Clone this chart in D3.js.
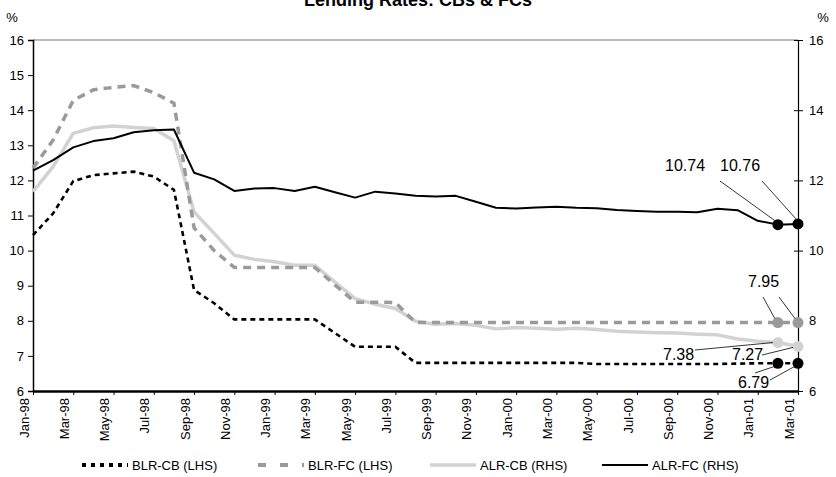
<!DOCTYPE html>
<html><head><meta charset="utf-8">
<script src="https://cdn.jsdelivr.net/npm/d3@7"></script>
<style>
body{margin:0;background:#fff;}
text{font-family:"Liberation Sans",Arial,sans-serif;}
</style></head>
<body><svg id="chart" width="836" height="477"></svg>
<script>
const months = ["Jan-98","Feb-98","Mar-98","Apr-98","May-98","Jun-98","Jul-98","Aug-98","Sep-98","Oct-98","Nov-98","Dec-98",
"Jan-99","Feb-99","Mar-99","Apr-99","May-99","Jun-99","Jul-99","Aug-99","Sep-99","Oct-99","Nov-99","Dec-99",
"Jan-00","Feb-00","Mar-00","Apr-00","May-00","Jun-00","Jul-00","Aug-00","Sep-00","Oct-00","Nov-00","Dec-00",
"Jan-01","Feb-01","Mar-01"];
const tickLabels = ["Jan-98","Mar-98","May-98","Jul-98","Sep-98","Nov-98","Jan-99","Mar-99","May-99","Jul-99","Sep-99","Nov-99",
"Jan-00","Mar-00","May-00","Jul-00","Sep-00","Nov-00","Jan-01","Mar-01"];
const yTicks = [6,7,8,9,10,11,12,13,14,15,16];
const yTicksRight = [6,8,10,12,14,16];

const blrCB = [10.44,11.06,11.98,12.15,12.20,12.25,12.11,11.73,8.88,8.50,8.04,8.04,
8.04,8.04,8.04,7.65,7.26,7.26,7.26,6.80,6.80,6.80,6.80,6.80,
6.80,6.80,6.80,6.80,6.77,6.77,6.77,6.77,6.77,6.77,6.77,6.78,
6.79,6.79,6.79];
const blrFC = [12.35,13.15,14.28,14.58,14.65,14.70,14.50,14.20,10.65,10.00,9.52,9.52,
9.52,9.52,9.52,9.02,8.53,8.53,8.52,7.95,7.95,7.95,7.95,7.95,
7.95,7.95,7.95,7.95,7.95,7.95,7.95,7.95,7.95,7.95,7.95,7.95,
7.95,7.95,7.95];
const alrCB = [11.68,12.39,13.34,13.50,13.55,13.51,13.48,13.13,11.10,10.49,9.87,9.75,
9.68,9.58,9.58,9.10,8.63,8.47,8.35,7.99,7.90,7.92,7.87,7.77,
7.81,7.79,7.76,7.79,7.75,7.70,7.68,7.66,7.65,7.62,7.60,7.48,
7.42,7.38,7.27];
const alrFC = [12.28,12.58,12.94,13.12,13.20,13.37,13.43,13.45,12.22,12.03,11.70,11.77,
11.78,11.70,11.82,11.66,11.51,11.68,11.63,11.56,11.54,11.56,11.39,11.22,
11.20,11.23,11.25,11.22,11.21,11.16,11.13,11.11,11.11,11.09,11.19,11.15,
10.85,10.74,10.76];

const svg = d3.select("#chart");
const L = 33, R = 798, T = 40, B = 391;
const x = d3.scalePoint().domain(months).range([L, R]);
const y = d3.scaleLinear().domain([6,16]).range([B, T]);

// title
svg.append("text").attr("x",418).attr("y",6).attr("text-anchor","middle")
  .attr("font-size",18).attr("font-weight","bold").text("Lending Rates: CBs & FCs");
svg.append("text").attr("x",12).attr("y",22).attr("text-anchor","middle").attr("font-size",13).text("%");
svg.append("text").attr("x",823).attr("y",22).attr("text-anchor","middle").attr("font-size",13).text("%");

// top border
svg.append("line").attr("x1",L).attr("x2",R).attr("y1",T).attr("y2",T).attr("stroke","#777").attr("stroke-width",1.2);

// left axis
const gL = svg.append("g").attr("transform",`translate(${L},0)`)
  .call(d3.axisLeft(y).tickValues(yTicks).tickSize(5).tickPadding(4).tickFormat(d3.format("d")));
gL.select(".domain").attr("stroke","#000").attr("stroke-width",1.5);
gL.selectAll("text").attr("font-size",13).attr("font-family","Liberation Sans, Arial, sans-serif").attr("fill","#000");

// right axis
const gR = svg.append("g").attr("transform",`translate(${R},0)`)
  .call(d3.axisRight(y).tickValues(yTicksRight).tickSize(5).tickPadding(6).tickFormat(d3.format("d")));
gR.select(".domain").attr("stroke","#000").attr("stroke-width",1.2);
gR.selectAll(".tick line").attr("x1",-4);
gR.selectAll("text").attr("font-size",13).attr("font-family","Liberation Sans, Arial, sans-serif").attr("fill","#000");

// bottom axis
const gB = svg.append("g").attr("transform",`translate(0,${B})`)
  .call(d3.axisBottom(x).tickValues(tickLabels).tickSize(4).tickSizeOuter(0));
gB.select(".domain").attr("stroke","#000").attr("stroke-width",2.5);
gB.selectAll("text").attr("font-size",13).attr("font-family","Liberation Sans, Arial, sans-serif").attr("fill","#000")
  .attr("transform","rotate(-90)").attr("text-anchor","end").attr("dx","-7").attr("dy","-0.38em").attr("y",0).attr("x",0);

// lines
const line = d3.line().x((d,i)=>x(months[i])).y(d=>y(d));
const series = [
  {name:"ALR-CB (RHS)", data:alrCB, color:"#d2d2d2", w:3.5, dash:null},
  {name:"BLR-FC (LHS)", data:blrFC, color:"#9a9a9a", w:3.5, dash:"8,6"},
  {name:"ALR-FC (RHS)", data:alrFC, color:"#000", w:2, dash:null},
  {name:"BLR-CB (LHS)", data:blrCB, color:"#000", w:2.6, dash:"5,4"}
];
series.forEach(s=>{
  svg.append("path").datum(s.data).attr("d",line).attr("fill","none")
    .attr("stroke",s.color).attr("stroke-width",s.w).attr("stroke-dasharray",s.dash)
    .attr("stroke-linejoin","round");
});

// end markers (Feb-01, Mar-01)
const markerColor = {"ALR-CB (RHS)":"#d2d2d2","BLR-FC (LHS)":"#9a9a9a","ALR-FC (RHS)":"#000","BLR-CB (LHS)":"#000"};
series.forEach(s=>{
  [37,38].forEach(i=>{
    svg.append("circle").attr("cx",x(months[i])).attr("cy",y(s.data[i])).attr("r",5.5).attr("fill",markerColor[s.name]);
  });
});

// annotations
const ann = svg.append("g");
function lbl(tx,ty,t){ann.append("text").attr("x",tx).attr("y",ty).attr("font-size",16).text(t);}
function ld(x1,y1,x2,y2){ann.append("line").attr("x1",x1).attr("y1",y1).attr("x2",x2).attr("y2",y2).attr("stroke","#000").attr("stroke-width",0.8);}
lbl(665,171,"10.74"); lbl(720,171,"10.76");
ld(720,181,x(months[37])-3,y(alrFC[37])-4); ld(762,181,x(months[38])-2,y(alrFC[38])-5);
lbl(748,287,"7.95");
ld(763,297,x(months[37])-3,y(blrFC[37])-4); ld(779,297,x(months[38])-3,y(blrFC[38])-4);
lbl(663,360,"7.38"); lbl(732,360,"7.27");
ld(695,350,x(months[37])-5,y(alrCB[37])); ld(762,355,x(months[38])-5,y(alrCB[38])+1);
lbl(738,388,"6.79");
ld(755,373,x(months[37])-3,y(blrCB[37])+3); ld(770,380,x(months[38])-3,y(blrCB[38])+3);

// legend
const lg = svg.append("g");
const legendItems = [
  {name:"BLR-CB (LHS)", x:82, color:"#000", w:4, dash:"4,5"},
  {name:"BLR-FC (LHS)", x:258, color:"#9a9a9a", w:4, dash:"8,14"},
  {name:"ALR-CB (RHS)", x:430, color:"#d2d2d2", w:3.5, dash:null},
  {name:"ALR-FC (RHS)", x:602, color:"#000", w:2, dash:null}
];
legendItems.forEach(it=>{
  lg.append("line").attr("x1",it.x).attr("x2",it.x+46).attr("y1",465).attr("y2",465)
    .attr("stroke",it.color).attr("stroke-width",it.w).attr("stroke-dasharray",it.dash);
  lg.append("text").attr("x",it.x+50).attr("y",470).attr("font-size",13).text(it.name);
});
</script></body></html>
